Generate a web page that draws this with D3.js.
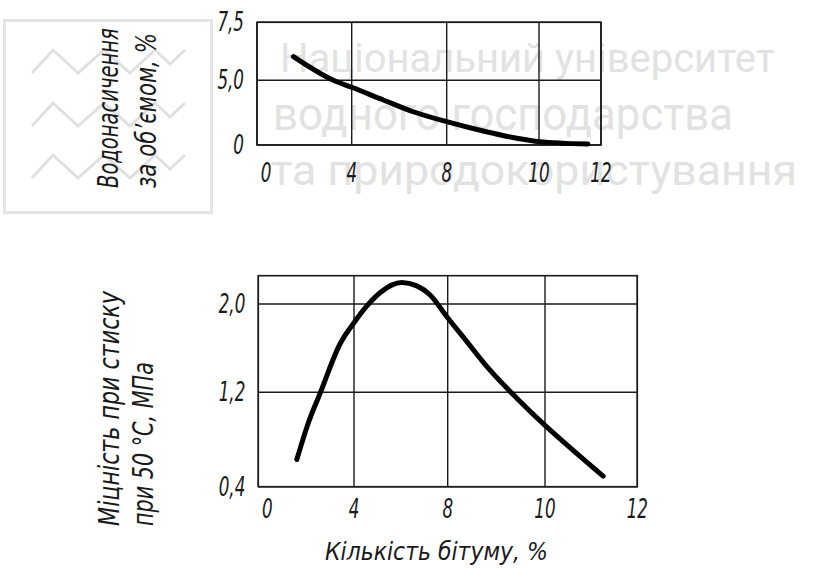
<!DOCTYPE html>
<html><head><meta charset="utf-8">
<script src="https://cdn.jsdelivr.net/npm/d3@7"></script>
<style>
body{margin:0;background:#fff;}
svg{display:block;}
.tech{font-family:"DejaVu Sans",sans-serif;font-weight:200;font-style:italic;fill:#1a1a1a;}
.wm{font-family:Roboto,"Open Sans",sans-serif;fill:#e2e2e2;}
</style></head>
<body>
<svg id="c" width="834" height="574"></svg>
<script>
// ---- data ----
const xTicks = [0, 4, 8, 10, 12];
const xTickLabels = ["0", "4", "8", "10", "12"];
const topYTicks = [0, 5.0, 7.5];
const topYTickLabels = ["0", "5,0", "7,5"];
const botYTicks = [0.4, 1.2, 2.0];
const botYTickLabels = ["0,4", "1,2", "2,0"];
const botYMax = 2.25;

// water saturation by volume, %
const waterX = [1.54, 3.23, 4.0, 5.33, 6.59, 8.0, 8.79, 9.52, 10.0, 11.58];
const waterY = [6.02, 5.0, 4.46, 3.48, 2.57, 1.80, 1.08, 0.52, 0.26, 0.08];
// compressive strength at 50 °C, MPa
const strengthX = [1.61, 2.09, 2.58, 3.42, 4.0, 4.54, 5.11, 6.04, 6.68, 7.25, 7.98, 8.32, 8.87, 9.42, 10.0, 10.40, 11.26];
const strengthY = [0.63, 0.94, 1.19, 1.64, 1.83, 1.98, 2.10, 2.19, 2.16, 2.08, 1.88, 1.70, 1.40, 1.15, 0.92, 0.78, 0.49];

const topTitle = ["Водонасичення", "за об’ємом, %"];
const botTitle = ["Міцність при стиску", "при 50 °С, МПа"];
const xTitle = "Кількість бітуму, %";
const watermark = ["Національний університет", "водного господарства", "та природокористування"];

// ---- layout ----
const svg = d3.select("#c");

function techText(parent, x, y, str, o) {
  const t = parent.append("text").attr("class", "tech")
    .attr("font-size", o.size).attr("text-anchor", o.anchor || "start").text(str);
  let sx = o.sx || 1;
  if (o.length) sx = o.length / t.node().getComputedTextLength();
  t.attr("transform", `translate(${x},${y}) rotate(${o.rotate || 0}) scale(${sx},1)`);
  return t;
}

// logo & watermark
const logo = svg.append("g");
logo.append("rect").attr("x", 4.5).attr("y", 20.5).attr("width", 207).attr("height", 192)
  .attr("fill", "none").attr("stroke", "#e4e4e4").attr("stroke-width", 3);
[0, 53, 105].forEach(off => {
  const pts = [[32, 73], [53, 50], [78, 73], [104, 50], [130, 73], [155, 50], [170, 64], [185, 50]];
  logo.append("polyline").attr("points", pts.map(p => [p[0], p[1] + off].join(",")).join(" "))
    .attr("fill", "none").attr("stroke", "#e0e0e0").attr("stroke-width", 3);
});
const wmCfg = [{x: 280, y: 72, fs: 40, len: 495}, {x: 273, y: 130, fs: 46, len: 460}, {x: 271, y: 185, fs: 42, len: 526}];
watermark.forEach((t, i) => {
  svg.append("text").attr("class", "wm").attr("x", wmCfg[i].x).attr("y", wmCfg[i].y)
    .attr("font-size", wmCfg[i].fs).attr("textLength", wmCfg[i].len)
    .attr("lengthAdjust", "spacingAndGlyphs").text(t);
});

function panel(opt) {
  const g = svg.append("g");
  const x = d3.scaleLinear().domain(xTicks).range(opt.xRange);
  const y = d3.scaleLinear().domain(opt.yDomain).range(opt.yRange);
  const x0 = opt.xRange[0], x1 = opt.xRange[opt.xRange.length - 1];
  const y0 = opt.yRange[0], y1 = opt.yRange[opt.yRange.length - 1];
  // grid
  g.selectAll("line.v").data(xTicks).join("line").attr("class", "v")
    .attr("x1", d => x(d)).attr("x2", d => x(d)).attr("y1", y0).attr("y2", y1)
    .attr("stroke", "#1a1a1a").attr("stroke-width", 1.4);
  g.selectAll("line.h").data(opt.yTicks).join("line").attr("class", "h")
    .attr("x1", x0).attr("x2", x1).attr("y1", d => y(d)).attr("y2", d => y(d))
    .attr("stroke", "#1a1a1a").attr("stroke-width", 1.4);
  g.append("rect").attr("x", x0).attr("y", y1).attr("width", x1 - x0).attr("height", y0 - y1)
    .attr("fill", "none").attr("stroke", "#1a1a1a").attr("stroke-width", 1.6);
  // tick labels
  xTicks.forEach((d, i) => techText(g, x(d) + (i === 0 ? 9 : 0), opt.xLabelY, xTickLabels[i],
    {size: 27, anchor: "middle", sx: 0.62}));
  opt.yTicks.forEach((d, i) => techText(g, x0 - 13, y(d) + 9, opt.yLabels[i],
    {size: 27, anchor: "end", sx: 0.62}));
  // curve
  const line = d3.line().x(d => x(d[0])).y(d => y(d[1])).curve(d3.curveMonotoneX);
  g.append("path").datum(opt.xs.map((v, i) => [v, opt.ys[i]])).attr("d", line)
    .attr("fill", "none").attr("stroke", "#000").attr("stroke-width", 5)
    .attr("stroke-linecap", "round").attr("stroke-linejoin", "round");
  // title
  opt.title.forEach((t, i) => techText(g, opt.titleX[i], opt.titleY, t,
    {size: 28, rotate: -90, length: opt.titleLen[i]}));
}

panel({
  xRange: [257, 351.7, 446.7, 539, 601],
  yDomain: [0, 5, 7.5], yRange: [145, 80.3, 22.3],
  yTicks: topYTicks, yLabels: topYTickLabels,
  xLabelY: 182, xs: waterX, ys: waterY,
  title: topTitle, titleX: [118, 156], titleY: 188, titleLen: [160, 155]
});
panel({
  xRange: [258.3, 354, 447.7, 545, 637.3],
  yDomain: [0.4, 1.2, 2.0, botYMax], yRange: [486.7, 392.3, 304, 275.7],
  yTicks: botYTicks, yLabels: botYTickLabels,
  xLabelY: 518, xs: strengthX, ys: strengthY,
  title: botTitle, titleX: [119, 153], titleY: 526, titleLen: [235, 164]
});

techText(svg, 325, 560, xTitle, {size: 25, length: 223});
</script>
</body></html>
